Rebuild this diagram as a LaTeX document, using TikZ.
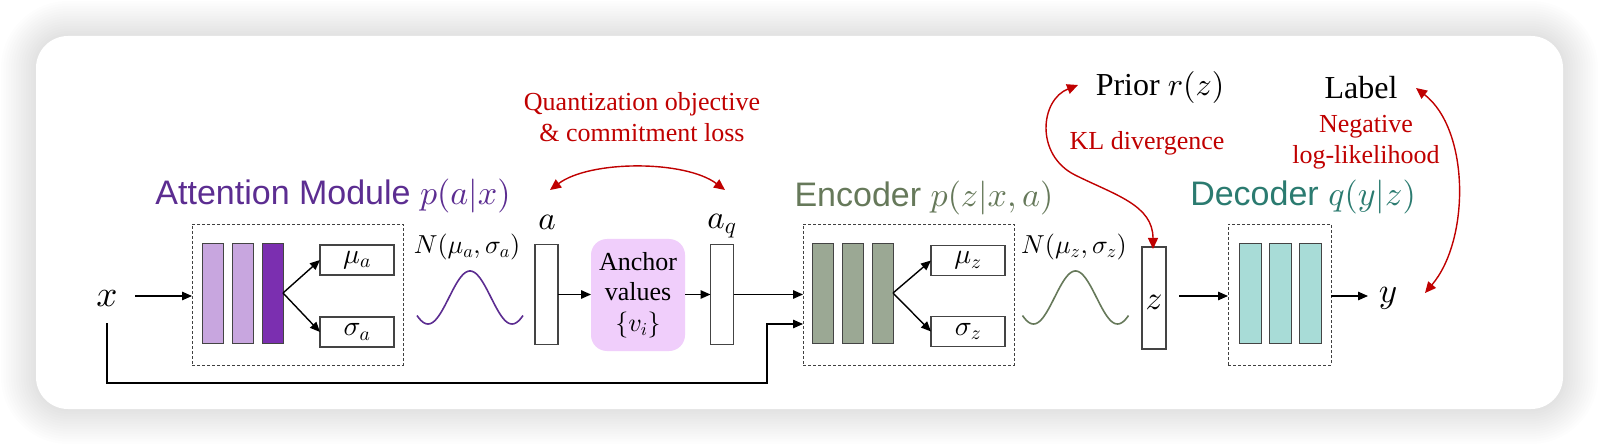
\documentclass[tikz,border=0pt]{standalone}
\DeclareFontShape{OML}{cmm}{m}{it}{<->cmmi10}{}
\DeclareFontShape{OMS}{cmsy}{m}{n}{<->cmsy10}{}
\DeclareFontShape{OT1}{cmr}{m}{n}{<->cmr10}{}
\DeclareFontShape{OMX}{cmex}{m}{n}{<->cmex10}{}
\usepackage{fontspec}
\setmainfont{Liberation Serif}
\newfontfamily\arialf{Liberation Sans}
\usetikzlibrary{arrows.meta}
\definecolor{attc}{HTML}{5C2D91}
\definecolor{attl}{HTML}{C8A6DF}
\definecolor{attd}{HTML}{7B2FB0}
\definecolor{encc}{HTML}{66795A}
\definecolor{encb}{HTML}{9BA894}
\definecolor{decc}{HTML}{2B7B70}
\definecolor{decb}{HTML}{A8DCD7}
\definecolor{lossred}{HTML}{C00000}
\definecolor{anchorfill}{HTML}{F0CEFB}
\definecolor{edgec}{HTML}{444444}
\begin{document}
\begin{tikzpicture}[x=1pt,y=-1pt,
  every node/.style={inner sep=0pt, outer sep=0pt},
  dbox/.style={draw=black!75, dash pattern=on 3pt off 2pt, line width=0.9pt},
  layerbar/.style={draw=edgec, line width=0.9pt, minimum width=21pt, minimum height=100pt},
  pbox/.style={draw=edgec, line width=1.1pt, fill=white, minimum width=74pt, minimum height=30pt, font=\fontsize{28}{30}\selectfont},
  vecbox/.style={draw=edgec, line width=1.1pt, fill=white, minimum width=23pt, minimum height=100pt},
  arr/.style={-{Triangle[length=10pt,width=8.5pt]}, line width=1.4pt, black},
  redarr/.style={{Triangle[length=11pt,width=10pt]}-{Triangle[length=11pt,width=10pt]}, line width=1.4pt, lossred},
  ttl/.style={font=\arialf\fontsize{34}{40}\selectfont},
  losstxt/.style={text=lossred, font=\fontsize{26}{30.5}\selectfont, align=center},
  mathlbl/.style={font=\fontsize{33}{36}\selectfont},
  bigtxt/.style={font=\fontsize{32}{38}\selectfont},
  gauss/.style={line width=1.6pt}
]
% canvas and card
\useasboundingbox (0,0) rectangle (1600,446);
\fill[white] (0,0) rectangle (1600,446);
\foreach \i in {1,...,14}{
  \pgfmathsetmacro\rr{32+\i*2.5}
  \pgfmathsetmacro\dd{\i*2.5}
  \fill[black, opacity=0.009, rounded corners=\rr pt] ({36-\dd},{36-\dd}) rectangle ({1563+\dd},{409+\dd});
}
\fill[white, rounded corners=32pt] (36,36) rectangle (1563,409);

% ---------- Attention module ----------
\node[ttl, text=attc] (atttitle) at (333,196) {Attention Module $p(a|x)$};
\node[dbox, minimum width=211pt, minimum height=141pt] (attbox) at (297.5,294.5) {};
\node[layerbar, fill=attl] (att1) at (212.5,293) {};
\node[layerbar, fill=attl] (att2) at (242.5,293) {};
\node[layerbar, fill=attd] (att3) at (272.5,293) {};
\node[pbox] (mua) at (357,260) {$\mu_a$};
\node[pbox] (siga) at (357,332) {$\sigma_a$};
\draw[arr] (att3.east) -- (mua.west);
\draw[arr] (att3.east) -- (siga.west);

\node[font=\fontsize{37}{40}\selectfont] (xin) at (107,299) {$x$};
\coordinate (xr) at (135,296);
\draw[arr] (xr) -- (xr -| attbox.west);

\node[font=\fontsize{26}{30}\selectfont] (na) at (467,247) {$N(\mu_a,\sigma_a)$};
\draw[gauss, attc] plot[domain=-53:53, samples=80] ({470+\x}, {297.5-26.5*cos(\x*4.285714)});

% ---------- a, anchors, a_q ----------
\node[vecbox] (abox) at (546.5,294.5) {};
\node[mathlbl] (alab) at (547,222) {$a$};
\node[fill=anchorfill, rounded corners=16pt, minimum width=94pt, minimum height=112pt, align=center, font=\fontsize{26}{30.5}\selectfont] (anchor) at (638,295) {Anchor\\values\\$\{v_i\}$};
\node[vecbox] (aqbox) at (722,294.5) {};
\node[mathlbl] (aqlab) at (722,226) {$a_q$};
\draw[arr] (abox.east) -- (abox.east -| anchor.west);
\draw[arr] (anchor.east |- abox.east) -- (abox.east -| aqbox.west);

\node[losstxt] (quant) at (642,117) {Quantization objective\\\& commitment loss};
\coordinate (qL) at (550,190);
\coordinate (qR) at (725,190);
\draw[redarr] (qL) .. controls (590,160) and (685,160) .. (qR);

% ---------- Encoder ----------
\node[ttl, text=encc] (enctitle) at (924,198) {Encoder $p(z|x,a)$};
\node[dbox, minimum width=211pt, minimum height=141pt] (encbox) at (908.5,294.5) {};
\node[layerbar, fill=encb] (enc1) at (822.5,293) {};
\node[layerbar, fill=encb] (enc2) at (852.5,293) {};
\node[layerbar, fill=encb] (enc3) at (882.5,293) {};
\node[pbox] (muz) at (968,260.5) {$\mu_z$};
\node[pbox] (sigz) at (968,331.5) {$\sigma_z$};
\draw[arr] (enc3.east) -- (muz.west);
\draw[arr] (enc3.east) -- (sigz.west);
\draw[arr] (aqbox.east) -- (aqbox.east -| encbox.west);

\coordinate (fb1) at (107,323);
\coordinate (fbc) at (767,383);
\coordinate (encin2) at (803,324);
\draw[arr] (fb1) |- (fbc) |- (encin2);

\node[font=\fontsize{26}{30}\selectfont] (nz) at (1074,247) {$N(\mu_z,\sigma_z)$};
\draw[gauss, encc] plot[domain=-53:53, samples=80] ({1075.5+\x}, {297.5-26.5*cos(\x*4.285714)});

% ---------- z ----------
\node[vecbox, minimum width=24pt, minimum height=102pt] (zbox) at (1154,298) {};
\node[mathlbl] (zlab) at (1154,302) {$z$};

% ---------- Decoder ----------
\node[ttl, text=decc] (dectitle) at (1303,197) {Decoder $q(y|z)$};
\node[dbox, minimum width=103pt, minimum height=141pt] (decbox) at (1279.5,294.5) {};
\node[layerbar, minimum width=22pt, fill=decb] (dec1) at (1250,293) {};
\node[layerbar, minimum width=22pt, fill=decb] (dec2) at (1280,293) {};
\node[layerbar, minimum width=22pt, fill=decb] (dec3) at (1310,293) {};
\coordinate (zr) at (1179,296);
\draw[arr] (zr) -- (zr -| decbox.west);
\node[font=\fontsize{35}{38}\selectfont] (yout) at (1388,298) {$y$};
\coordinate (yl) at (1368,296);
\draw[arr] (decbox.east |- yl) -- (yl);

% ---------- Prior / Label ----------
\node[bigtxt] (prior) at (1160,88) {Prior $r(z)$};
\node[bigtxt] (label) at (1361,88) {Label};
\node[losstxt] (kl) at (1147,143) {KL divergence};
\node[losstxt] (nll) at (1366,142) {Negative\\log-likelihood};

\coordinate (klA) at (1078,85);
\coordinate (klM) at (1075,175);
\coordinate (klB) at (1153,249);
\draw[redarr] (klA) .. controls (1040,100) and (1035,155) .. (klM) .. controls (1115,195) and (1153,205) .. (klB);

\coordinate (nlA) at (1416,88);
\coordinate (nlB) at (1425,293);
\draw[redarr] (nlA) .. controls (1470,130) and (1470,240) .. (nlB);
\end{tikzpicture}
\end{document}
